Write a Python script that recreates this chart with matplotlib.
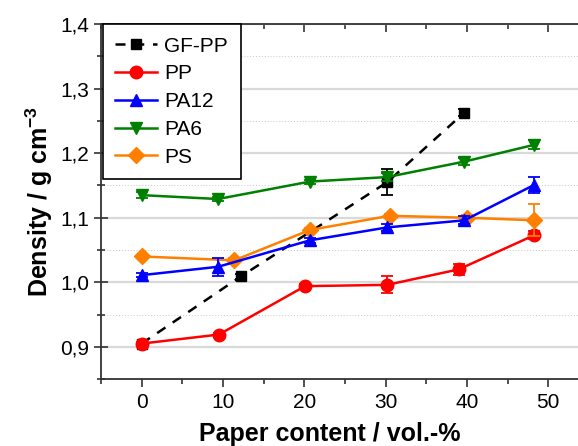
import matplotlib.pyplot as plt
from matplotlib.ticker import MultipleLocator, FuncFormatter

plt.rcParams['font.family'] = ['Liberation Sans', 'DejaVu Sans']
plt.rcParams['mathtext.fontset'] = 'custom'
plt.rcParams['mathtext.bf'] = 'Liberation Sans:bold'
plt.rcParams['mathtext.rm'] = 'Liberation Sans'

# Paper content (vol.-%) and density (g cm^-3)
gfpp_x = [0, 12.2, 30.2, 39.7]
gfpp_y = [0.905, 1.009, 1.155, 1.263]
gfpp_err = [0.0, 0.004, 0.020, 0.006]

pp_x = [0, 9.5, 20.1, 30.2, 39.0, 48.3]
pp_y = [0.905, 0.919, 0.994, 0.996, 1.020, 1.073]
pp_err = [0.003, 0.003, 0.004, 0.013, 0.008, 0.006]

pa12_x = [0, 9.4, 20.7, 30.2, 39.7, 48.3]
pa12_y = [1.011, 1.024, 1.065, 1.085, 1.096, 1.151]
pa12_err = [0.003, 0.014, 0.004, 0.006, 0.006, 0.012]

pa6_x = [0, 9.4, 20.7, 30.2, 39.7, 48.3]
pa6_y = [1.135, 1.129, 1.156, 1.163, 1.187, 1.213]
pa6_err = [0.005, 0.003, 0.003, 0.006, 0.006, 0.007]

ps_x = [0, 11.4, 20.7, 30.5, 40.0, 48.3]
ps_y = [1.040, 1.034, 1.081, 1.103, 1.100, 1.096]
ps_err = [0.003, 0.003, 0.003, 0.003, 0.004, 0.025]

series = [
    ('GF-PP', gfpp_x, gfpp_y, gfpp_err, 'black', 's', '--', 2),
    ('PP', pp_x, pp_y, pp_err, '#ff0000', 'o', '-', 3),
    ('PA12', pa12_x, pa12_y, pa12_err, '#0000ff', '^', '-', 5),
    ('PA6', pa6_x, pa6_y, pa6_err, '#008000', 'v', '-', 6),
    ('PS', ps_x, ps_y, ps_err, '#ff8000', 'D', '-', 4),
]

fig = plt.figure(figsize=(5.78, 4.46), dpi=100)
ax = fig.add_axes([0.1747, 0.150, 0.8253, 0.796])

handles = []
labels = []
for name, x, y, err, col, mk, ls, z in series:
    ms = 8 if mk == 'D' else 9
    if mk == 's':
        ms = 7.5
    c = ax.errorbar(x, y, yerr=err, color=col, marker=mk, linestyle=ls,
                    linewidth=1.8, markersize=ms, capsize=4, elinewidth=1.3,
                    capthick=1.3, zorder=z,
                    dashes=(4, 3.5) if ls == '--' else (None, None))
    handles.append(c[0])
    labels.append(name)

ax.set_xlim(-5, 53.67)
ax.set_ylim(0.85, 1.4)
ax.xaxis.set_major_locator(MultipleLocator(10))
ax.xaxis.set_minor_locator(MultipleLocator(5))
ax.yaxis.set_major_locator(MultipleLocator(0.1))
ax.yaxis.set_minor_locator(MultipleLocator(0.05))
ax.yaxis.set_major_formatter(FuncFormatter(lambda v, p: f'{v:.1f}'.replace('.', ',')))

ax.yaxis.grid(True, which='major', color='#d9d9d9', linewidth=1.6, zorder=0)
ax.yaxis.grid(True, which='minor', color='#c8c8c8', linewidth=0.7, linestyle=(0, (1, 2)), zorder=0)
ax.set_axisbelow(True)

ax.spines['right'].set_visible(False)
for s in ['left', 'bottom', 'top']:
    ax.spines[s].set_color('#333333')
    ax.spines[s].set_linewidth(1.3)

ax.tick_params(axis='x', which='both', direction='out', top=True, labelsize=15,
               colors='#222222', labelcolor='black', pad=4)
ax.tick_params(axis='x', which='major', length=6, width=1.1)
ax.tick_params(axis='x', which='minor', length=3.5, width=1.1)
ax.tick_params(axis='y', which='both', direction='inout', labelsize=15,
               colors='#222222', labelcolor='black')
ax.tick_params(axis='y', which='major', length=10, width=1.1)
ax.tick_params(axis='y', which='minor', length=6, width=1.1)

# top ticks point inward, bottom ticks outward
for t in ax.xaxis.get_major_ticks() + ax.xaxis.get_minor_ticks():
    t.tick2line.set_marker(3)

ax.set_xlabel('Paper content / vol.-%', fontsize=18, fontweight='bold')
ax.set_ylabel('Density / g cm$^{\\mathbf{-3}}$', fontsize=18, fontweight='bold', labelpad=4)
ax.xaxis.set_label_coords(0.48, -0.122)

leg = ax.legend(handles, labels, loc='upper left', bbox_to_anchor=(0.004, 1.0),
                fontsize=15, frameon=True, fancybox=False, edgecolor='black',
                framealpha=1, handlelength=2.0, handletextpad=0.35, borderpad=0.6,
                labelspacing=0.42, borderaxespad=0)
leg.get_frame().set_linewidth(1.2)
leg.set_zorder(10)

fig.savefig('out.png', dpi=100)
